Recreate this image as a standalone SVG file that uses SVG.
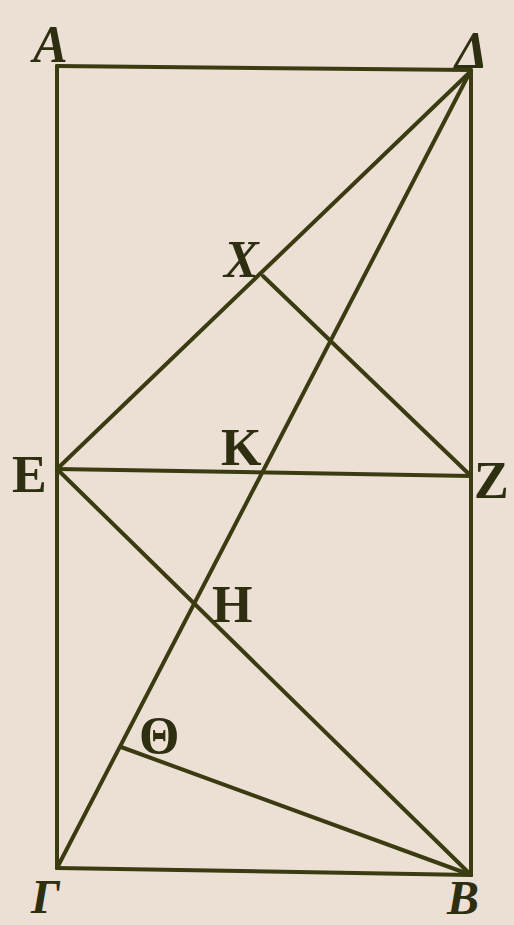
<svg xmlns="http://www.w3.org/2000/svg" width="514" height="925" viewBox="0 0 514 925">
<style>
.ln{stroke:#3b3b12;stroke-width:4;stroke-linecap:round;fill:none}
.lb{font-family:"Liberation Serif","DejaVu Serif",serif;font-weight:bold;font-size:52px;fill:#2e2e10}
.it{font-style:italic}
</style>
<rect width="514" height="925" fill="#ecdfd4"/>
<g id="connectors">
<line class="ln" x1="57" y1="66" x2="471" y2="70"/>
<line class="ln" x1="57" y1="66" x2="57" y2="868"/>
<line class="ln" x1="471" y1="70" x2="471" y2="875"/>
<line class="ln" x1="57" y1="868" x2="471" y2="875"/>
<line class="ln" x1="57" y1="469" x2="471" y2="476"/>
<line class="ln" x1="57" y1="469" x2="470" y2="72"/>
<line class="ln" x1="470" y1="72" x2="57" y2="868"/>
<line class="ln" x1="263" y1="276" x2="471" y2="476"/>
<line class="ln" x1="57" y1="469" x2="471" y2="875"/>
<line class="ln" x1="121" y1="747" x2="471" y2="875"/>
</g>
<g id="A"><text class="lb it" x="33" y="62">A</text></g>
<g id="Delta"><text class="lb it" x="455" y="68">Δ</text></g>
<g id="E"><text class="lb" x="12" y="492">E</text></g>
<g id="Z"><text class="lb" x="474" y="498">Z</text></g>
<g id="K"><text class="lb" x="221" y="465">K</text></g>
<g id="X"><text class="lb it" x="224" y="277">X</text></g>
<g id="H"><text class="lb" x="212" y="622">H</text></g>
<g id="Theta"><text class="lb" x="139" y="753">Θ</text></g>
<g id="Gamma"><text class="lb it" x="31" y="913" style="font-size:48px">Γ</text></g>
<g id="B"><text class="lb it" x="447" y="914" style="font-size:48px">B</text></g>
</svg>
